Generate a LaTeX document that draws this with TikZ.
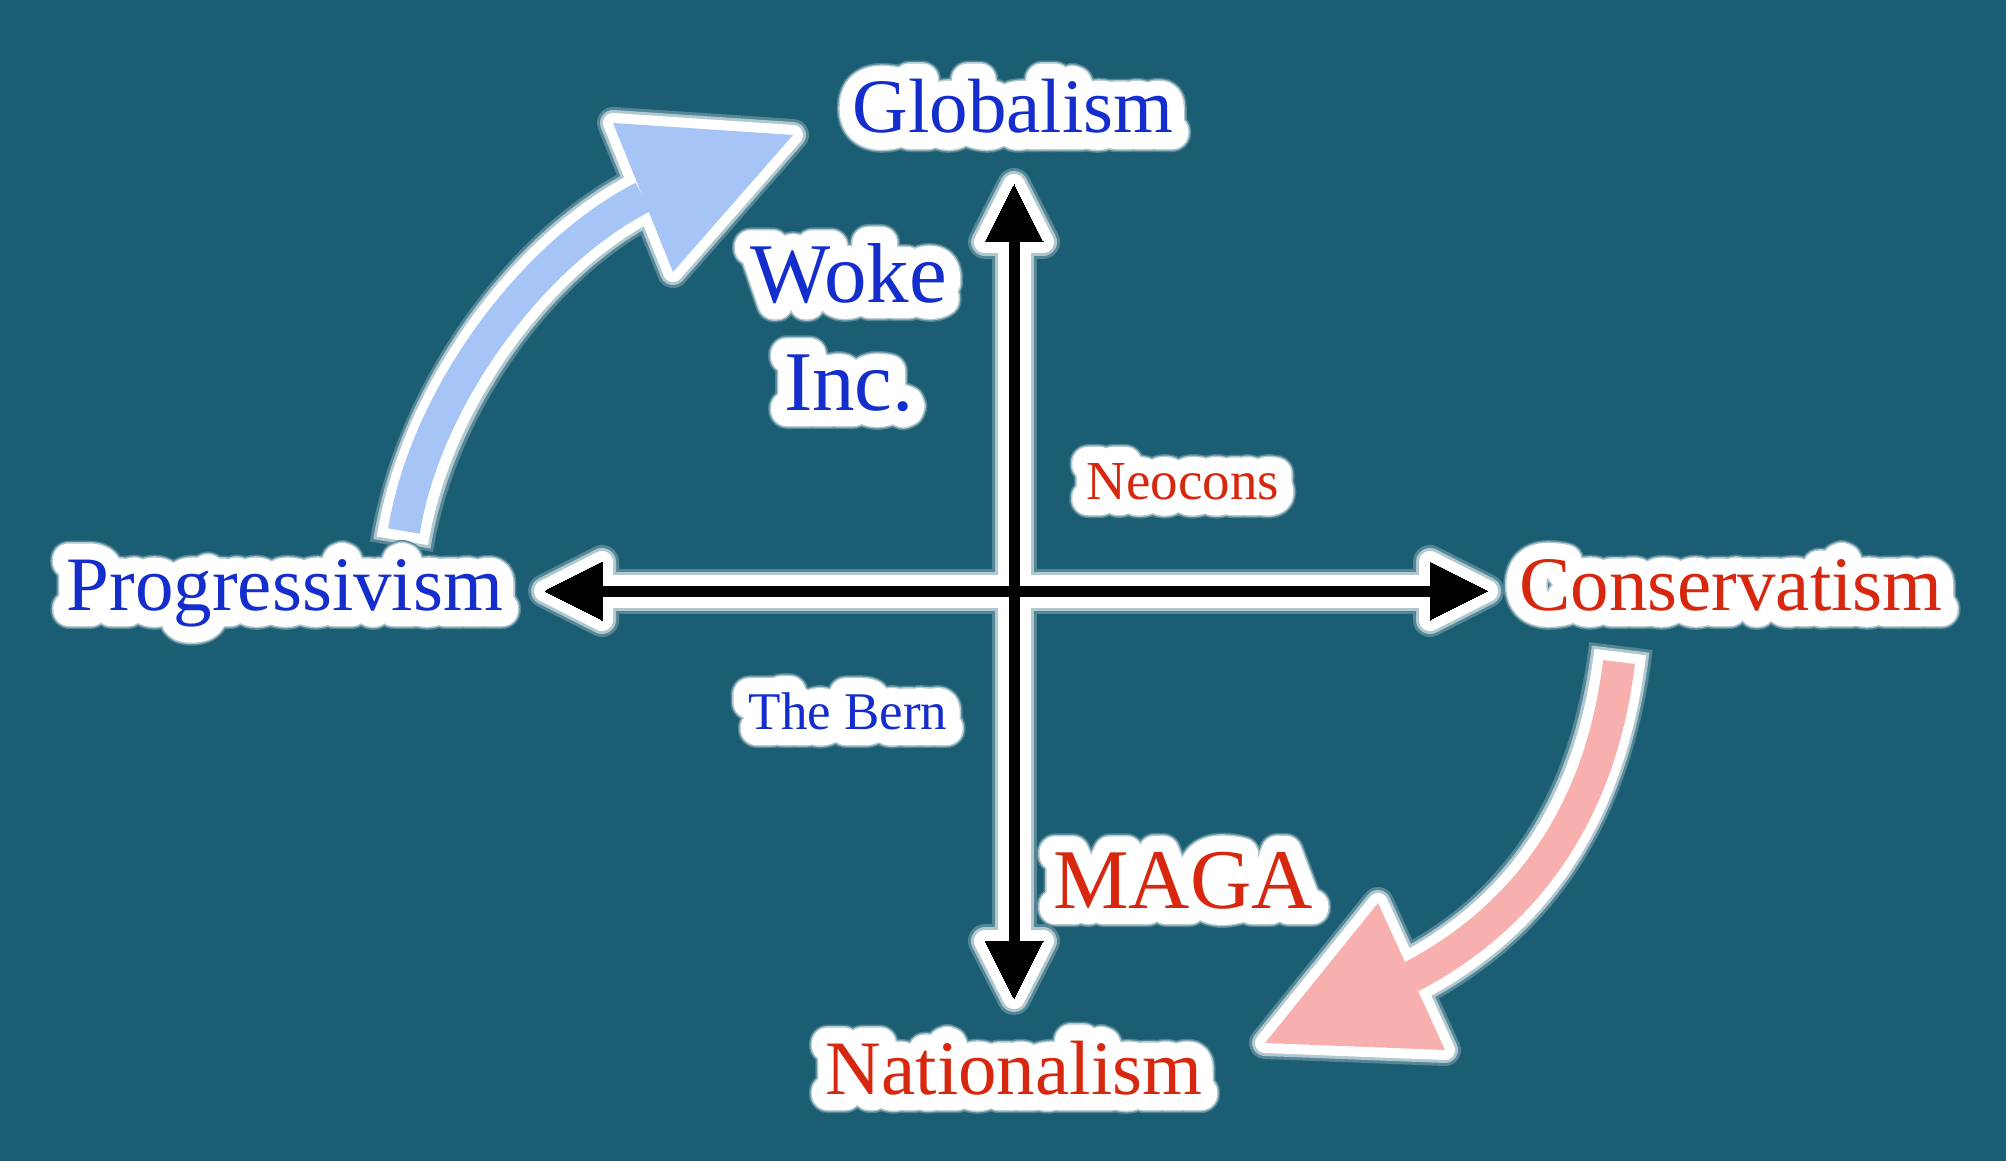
\documentclass[tikz,border=0pt]{standalone}
\usepackage{fontspec}
\setmainfont{Liberation Serif}

\definecolor{bg}{RGB}{27,94,115}
\colorlet{haloa}{white!25!bg}
\colorlet{halob}{white!65!bg}
\definecolor{txtblue}{RGB}{20,45,205}
\definecolor{txtred}{RGB}{215,40,15}
\definecolor{arrblue}{RGB}{166,196,245}
\definecolor{arrpink}{RGB}{248,176,174}

% text stroked with a wide line: colour, width, text
\newcommand{\stroketext}[3]{\rlap{\textcolor{#1}{\special{pdf:literal direct 2 Tr 1 j #2 w}#3\special{pdf:literal direct 0 Tr 0.4 w 0 j}}}}
% white glow round a text
\newcommand{\glow}[1]{\stroketext{haloa}{38}{#1}\stroketext{halob}{35}{#1}\stroketext{white}{32}{#1}#1}

\begin{document}
\begin{tikzpicture}[x=1pt,y=-1pt,
	lab/.style={inner sep=0pt, anchor=base, font=\fontsize{77}{90}\selectfont},
	blu/.style={lab, text=txtblue},
	rd/.style={lab, text=txtred}]
	\useasboundingbox (0,0) rectangle (2006,1161);
	\fill[bg] (0,0) rectangle (2006,1161);
	% axis ends
	\coordinate (N) at (1014,185);
	\coordinate (S) at (1014,998);
	\coordinate (W) at (545,591);
	\coordinate (E) at (1487,591);
	% curved arrows: tail, base of head, tip, barbs
	\coordinate (bt) at (404,531);
	\coordinate (bb) at (643,197);
	\coordinate (btip) at (793,135);
	\coordinate (bw1) at (613,123);
	\coordinate (bw2) at (673,272);
	\coordinate (rt) at (1619,662);
	\coordinate (rb) at (1411,977);
	\coordinate (rtip) at (1265,1043);
	\coordinate (rw1) at (1378,903);
	\coordinate (rw2) at (1445,1050);
	% glow, then fill
	\foreach \col/\m in {haloa/17, halob/14, white/11, black/0} {
		\draw[\col, line width=(11+2*\m)*1pt, shorten <=30pt, shorten >=30pt] (N) -- (S);
		\draw[\col, line width=(11+2*\m)*1pt, shorten <=30pt, shorten >=30pt] (W) -- (E);
		\filldraw[\col, line width=(2*\m)*1pt, line join=round]
			(N) -- ++(-29,57) -- ++(58,0) -- cycle
			(S) -- ++(-29,-57) -- ++(58,0) -- cycle
			(W) -- ++(57,-29) -- ++(0,58) -- cycle
			(E) -- ++(-57,-29) -- ++(0,58) -- cycle;
	}
	\foreach \col/\m in {haloa/16, halob/13, white/10} {
		\draw[\col, line width=(32+2*\m)*1pt, shorten <=-\m*1pt] (bt) .. controls (425,400) and (530,255) .. (bb);
		\draw[\col, line width=(32+2*\m)*1pt, shorten <=-\m*1pt] (rt) .. controls (1600,820) and (1520,920) .. (rb);
		\filldraw[\col, line width=(2*\m)*1pt, line join=round]
			(btip) -- (bw1) -- (bw2) -- cycle
			(rtip) -- (rw1) -- (rw2) -- cycle;
	}
	\draw[arrblue, line width=32pt] (bt) .. controls (425,400) and (530,255) .. (bb);
	\fill[arrblue] (btip) -- (bw1) -- (bw2) -- cycle;
	\draw[arrpink, line width=32pt] (rt) .. controls (1600,820) and (1520,920) .. (rb);
	\fill[arrpink] (rtip) -- (rw1) -- (rw2) -- cycle;
	% labels
	\node[blu] (glob) at (1013,133) {\glow{Globalism}};
	\node[blu] (prog) at (285,610) {\glow{Progressivism}};
	\node[rd] (cons) at (1731,610) {\glow{Conservatism}};
	\node[rd] (nat) at (1014,1094) {\glow{Nationalism}};
	\node[blu, font=\fontsize{85}{100}\selectfont] (woke) at (849,302) {\glow{Woke}};
	\node[blu, font=\fontsize{85}{100}\selectfont] (inc) at (849,410) {\glow{Inc.}};
	\node[rd, font=\fontsize{55}{66}\selectfont] (neo) at (1183,499) {\glow{Neocons}};
	\node[blu, font=\fontsize{53}{64}\selectfont] (bern) at (848,729) {\glow{The Bern}};
	\node[rd, font=\fontsize{85}{100}\selectfont] (maga) at (1183,908) {\glow{MAGA}};
\end{tikzpicture}
\end{document}
